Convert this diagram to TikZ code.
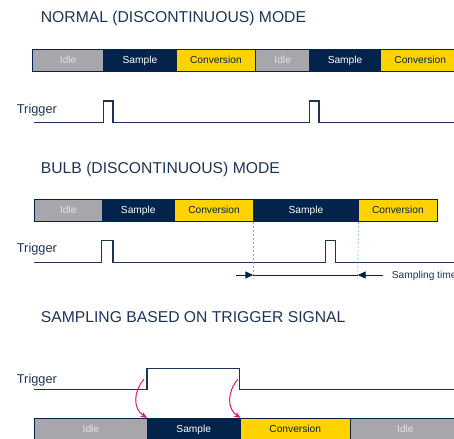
\documentclass[tikz,border=0pt]{standalone}
\usepackage{fontspec}
\setmainfont{Liberation Sans}
\usetikzlibrary{arrows.meta}
\definecolor{stnavy}{HTML}{03234B}
\definecolor{stgray}{HTML}{A7A7AB}
\definecolor{styellow}{HTML}{FFD200}
\definecolor{idletext}{HTML}{E4E4E6}
\definecolor{inkcol}{HTML}{1E3457}
\definecolor{guidecol}{HTML}{66BBE0}
\definecolor{edgecol}{HTML}{E0167F}
\begin{document}
\begin{tikzpicture}[x=1pt,y=-1pt,
  cell/.style={draw=stnavy, line width=0.8pt, anchor=west, minimum height=22.4pt,
    inner sep=0pt, font=\fontsize{10.2}{12}\selectfont, text height=7.4pt, text depth=2.1pt},
  idlecell/.style={cell, fill=stgray, text=idletext},
  samplecell/.style={cell, fill=stnavy, text=white},
  convcell/.style={cell, fill=styellow, text=stnavy},
  title/.style={anchor=base west, text=inkcol, inner sep=0pt, font=\fontsize{15.7}{18}\selectfont},
  triglabel/.style={anchor=base west, text=inkcol, inner sep=0pt, font=\fontsize{12.8}{15}\selectfont},
  signal/.style={draw=inkcol, line width=1.3pt, line join=miter},
  guide/.style={draw=guidecol, line width=0.6pt, dash pattern=on 2pt off 2pt},
  dimline/.style={draw=stnavy, line width=0.9pt},
  dimtip/.style={dimline, -{Triangle[length=8pt,width=7pt]}},
  edgearrow/.style={draw=edgecol, line width=1pt, -{Stealth[length=6.5pt,width=5.5pt]}}
]
\useasboundingbox (0,0) rectangle (454,438);
\clip (0,0) rectangle (454,438);

% ---------- normal (discontinuous) mode ----------
\node[title] (title1) at (40.7,22.3) {NORMAL (DISCONTINUOUS) MODE};
\node[idlecell,   minimum width=71pt]   (a1) at (32.3,60.5)  {Idle};
\node[samplecell, minimum width=72.4pt] (a2) at (103.3,60.5) {Sample};
\node[convcell,   minimum width=79.6pt] (a3) at (175.7,60.5) {Conversion};
\node[idlecell,   minimum width=54pt]   (a4) at (255.3,60.5) {Idle};
\node[samplecell, minimum width=70.7pt] (a5) at (309.3,60.5) {Sample};
\node[convcell,   minimum width=79.6pt] (a6) at (380,60.5)   {Conversion};
\node[triglabel] (trig1) at (16.7,113.3) {Trigger};
\draw[signal] (34,122.3) -- (103.3,122.3) -- (103.3,101) -- (113,101) -- (113,122.3)
  -- (309.3,122.3) -- (309.3,101) -- (319,101) -- (319,122.3) -- (460,122.3);

% ---------- bulb (discontinuous) mode ----------
\node[title] (title2) at (40.7,173.3) {BULB (DISCONTINUOUS) MODE};
\node[idlecell,   minimum width=67.7pt]  (b1) at (34,210.5)    {Idle};
\node[samplecell, minimum width=72.3pt]  (b2) at (101.7,210.5) {Sample};
\node[convcell,   minimum width=79.3pt]  (b3) at (174,210.5)   {Conversion};
\node[samplecell, minimum width=104.4pt] (b4) at (253.3,210.5) {Sample};
\node[convcell,   minimum width=79.6pt]  (b5) at (357.7,210.5) {Conversion};
\node[triglabel] (trig2) at (16.7,252.7) {Trigger};
\draw[signal] (34,262.3) -- (101.7,262.3) -- (101.7,240.7) -- (113,240.7) -- (113,262.3)
  -- (325.7,262.3) -- (325.7,240.7) -- (335.7,240.7) -- (335.7,262.3) -- (460,262.3);

\coordinate (g1) at (253.3,278.5);
\coordinate (g2) at (357.7,278.5);
\draw[guide] (b4.south west) -- (g1);
\draw[guide] (b4.south east) -- (g2);
\coordinate (d1) at (236,275);
\coordinate (d2) at (253.3,275);
\coordinate (d3) at (357.7,275);
\coordinate (d4) at (383,275);
\draw[dimtip] (d1) -- (d2);
\draw[dimline] (d2) -- (d3);
\draw[dimtip] (d4) -- (d3);
\node[anchor=base west, inner sep=0pt, text=inkcol, font=\fontsize{10.2}{12}\selectfont]
  (stime) at (391.7,278) {Sampling time};

% ---------- sampling based on trigger signal ----------
\node[title] (title3) at (40.7,322.3) {SAMPLING BASED ON TRIGGER SIGNAL};
\node[triglabel] (trig3) at (16.7,383.3) {Trigger};
\draw[signal] (34,389.3) -- (147,389.3) -- (147,368.7) -- (239.7,368.7) -- (239.7,389.3) -- (460,389.3);
\node[idlecell,   minimum width=113pt]   (c1) at (34,429.5)    {Idle};
\node[samplecell, minimum width=92.7pt]  (c2) at (147,429.5)   {Sample};
\node[convcell,   minimum width=110.3pt] (c3) at (239.7,429.5) {Conversion};
\node[idlecell,   minimum width=110pt]   (c4) at (350,429.5)   {Idle};

\coordinate (e1) at (144,379.3);
\coordinate (e2) at (237.8,379.3);
\draw[edgearrow] (e1) .. controls (133,392) and (133,409) .. (c2.north west);
\draw[edgearrow] (e2) .. controls (227,392) and (227,409) .. (c2.north east);
\end{tikzpicture}
\end{document}
